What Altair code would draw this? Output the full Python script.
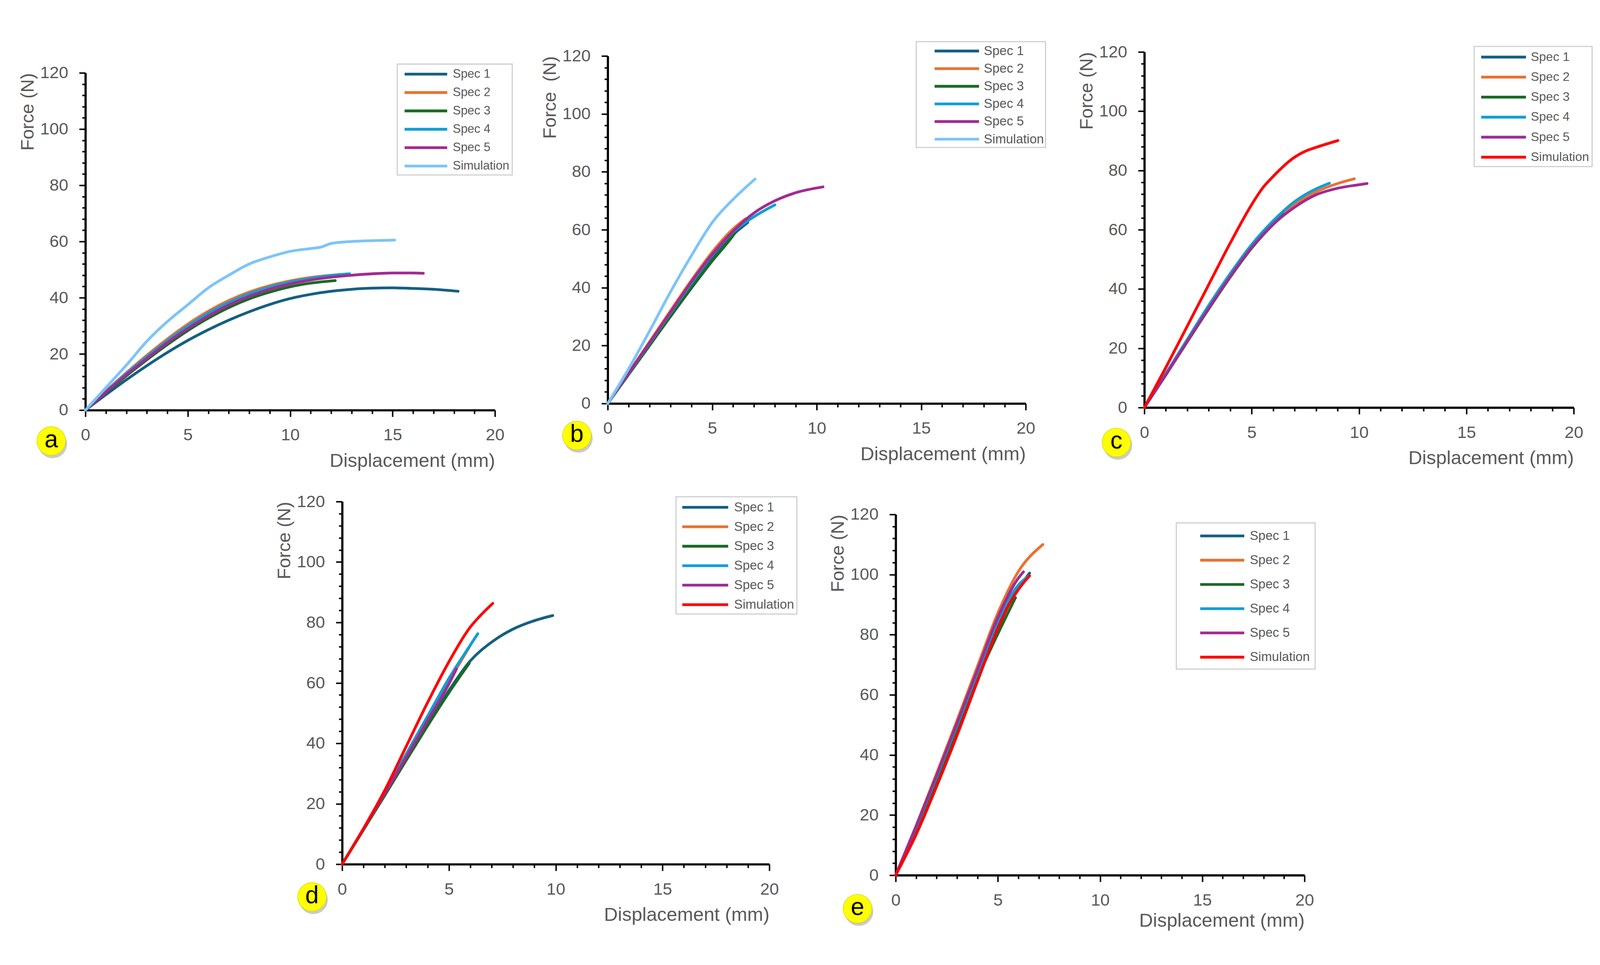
"""Force-displacement curves for five specimen sets (panels a-e)."""

import altair as alt
import pandas as pd

SERIES = ['Spec 1', 'Spec 2', 'Spec 3', 'Spec 4', 'Spec 5', 'Simulation']
SPEC_COLORS = ['#155F82', '#E97132', '#196B24', '#0F9ED5', '#A02B93']
SIM_BLUE = '#7CC4F8'
SIM_RED = '#FF0000'

X_TICKS = list(range(0, 21))
Y_TICKS = list(range(0, 121, 4))

GREY = '#595959'
FONT = 'Liberation Sans'

# panel a
A1_X = [0, 1, 2, 3, 4, 5, 6, 7, 8, 9, 10, 11, 12, 13, 14, 15, 16, 17, 18.2]
A1_F = [0, 5.5, 10.8, 15.8, 20.5, 24.8, 28.6, 32, 35, 37.6, 39.7, 41.2, 42.3, 43, 43.4, 43.5, 43.3, 43, 42.3]
A2_X = [0, 1, 2, 3, 4, 5, 6, 7, 8, 9, 10, 11, 12, 12.6]
A2_F = [0, 6.8, 13.3, 19.5, 25.3, 30.6, 35.2, 39, 42, 44.3, 46, 47.2, 48, 48.3]
A3_X = [0, 1, 2, 3, 4, 5, 6, 7, 8, 9, 10, 11, 12.2]
A3_F = [0, 6.2, 12.2, 17.9, 23.3, 28.3, 32.7, 36.5, 39.6, 42, 43.9, 45.2, 46.1]
A4_X = [0, 1, 2, 3, 4, 5, 6, 7, 8, 9, 10, 11, 12, 12.9]
A4_F = [0, 6.6, 13, 19, 24.7, 29.9, 34.5, 38.3, 41.4, 43.8, 45.6, 46.9, 47.9, 48.5]
A5_X = [0, 1, 2, 3, 4, 5, 6, 7, 8, 9, 10, 11, 12, 13, 14, 15, 16, 16.5]
A5_F = [0, 6.4, 12.6, 18.4, 24, 29, 33.5, 37.4, 40.5, 43, 44.9, 46.3, 47.3, 48, 48.5, 48.8, 48.8, 48.7]
A6_X = [0, 1, 2, 3, 4, 5, 6, 7, 8, 9, 10, 11, 11.5, 12, 13, 14, 15.1]
A6_F = [0, 8, 16, 24.5, 31.5, 37.5, 43.5, 48, 52, 54.5, 56.5, 57.5, 58, 59.3, 60, 60.3, 60.5]

# panel b
B1_X = [0, 1, 2, 3, 4, 5, 6, 6.7]
B1_F = [0, 10.3, 20.6, 30.8, 41, 50.5, 58.3, 62.5]
B2_X = [0, 1, 2, 3, 4, 5, 6, 6.6]
B2_F = [0, 10.6, 21.3, 32, 42.5, 52.3, 60.3, 63.8]
B3_X = [0, 1, 2, 3, 4, 5, 6, 6.1]
B3_F = [0, 10, 20, 30, 39.8, 49.2, 58, 59]
B4_X = [0, 1, 2, 3, 4, 5, 6, 7, 8]
B4_F = [0, 10.4, 20.8, 31.2, 41.5, 51.2, 59.2, 64.5, 68.6]
B5_X = [0, 1, 2, 3, 4, 5, 6, 7, 8, 9, 10.3]
B5_F = [0, 10.5, 21, 31.5, 42, 51.5, 59.5, 65.8, 70, 72.8, 74.8]
B6_X = [0, 1, 2, 3, 4, 5, 6, 7.05]
B6_F = [0, 12, 25, 38.5, 51, 62.5, 70.5, 77.5]

# panel c
C1_X = [0, 1, 2, 3, 4, 5, 6, 7, 7.4]
C1_F = [0, 11.2, 22.5, 33.8, 44.6, 54.4, 62.3, 68.3, 70.2]
C2_X = [0, 1, 2, 3, 4, 5, 6, 7, 8, 9, 9.78]
C2_F = [0, 11.2, 22.6, 34, 44.8, 54.6, 62.6, 68.6, 72.8, 75.6, 77.2]
C3_X = [0, 1, 2, 3, 4, 5, 6, 6.5]
C3_F = [0, 11, 22.2, 33.3, 44, 53.8, 61.8, 65.2]
C4_X = [0, 1, 2, 3, 4, 5, 6, 7, 8, 8.62]
C4_F = [0, 11.5, 23, 34.5, 45.2, 55, 63, 69.5, 73.8, 75.7]
C5_X = [0, 1, 2, 3, 4, 5, 6, 7, 8, 9, 10, 10.37]
C5_F = [0, 11, 22.3, 33.5, 44.2, 54, 61.8, 67.6, 71.8, 74, 75.2, 75.6]
C6_X = [0, 1, 2, 3, 4, 5, 5.5, 6, 7, 7.5, 8, 9.02]
C6_F = [0, 13.5, 27.5, 41.5, 55.5, 68.5, 74, 78, 84.5, 86.5, 87.8, 90.1]

# panel d
D1_X = [0, 1, 2, 3, 4, 5, 6, 7, 8, 9, 9.86]
D1_F = [0, 11.5, 23.2, 35, 46.5, 57.5, 67.3, 73.5, 77.8, 80.6, 82.3]
D2_X = [0, 1, 2, 3, 4, 5, 5.98]
D2_F = [0, 11.7, 23.7, 36, 48.3, 60.5, 72.2]
D3_X = [0, 1, 2, 3, 4, 5, 5.95]
D3_F = [0, 11.4, 22.8, 34.4, 45.8, 56.8, 66.5]
D4_X = [0, 1, 2, 3, 4, 5, 6, 6.35]
D4_F = [0, 11.8, 24, 36.5, 49, 61.5, 72.5, 76.3]
D5_X = [0, 1, 2, 3, 4, 5, 5.35]
D5_F = [0, 11.6, 23.4, 35.4, 47.6, 59.7, 64.6]
D6_X = [0, 1, 2, 3, 4, 5, 6, 6.5, 7.05]
D6_F = [0, 11.8, 24.5, 39, 53.5, 67, 78.5, 82.5, 86.3]

# panel e
E1_X = [0, 1, 2, 3, 4, 5, 6, 6.55]
E1_F = [0, 15.8, 32.3, 49.3, 66.7, 84, 95.5, 100.5]
E2_X = [0, 1, 2, 3, 4, 5, 6, 7.2]
E2_F = [0, 16.5, 33.8, 51.5, 69.5, 87.2, 101, 110]
E3_X = [0, 1, 2, 3, 4, 5, 5.86]
E3_F = [0, 15.5, 31.7, 48.5, 65.5, 80.3, 92.3]
E4_X = [0, 1, 2, 3, 4, 5, 6, 6.5]
E4_F = [0, 16, 32.6, 49.8, 67.3, 84.6, 96.5, 99.5]
E5_X = [0, 1, 2, 3, 4, 5, 6, 6.25]
E5_F = [0, 16.3, 33.2, 50.6, 68.3, 85.8, 98.8, 100.9]
E6_X = [0, 1, 2, 3, 4, 5, 5.5, 6, 6.55]
E6_F = [0, 13.5, 29.5, 46.5, 64.5, 82, 89.5, 95, 99.6]


def curves_frame(curves):
    rows = []
    for name, xs, fs in zip(SERIES, curves[0::2], curves[1::2]):
        for i, (x, f) in enumerate(zip(xs, fs)):
            rows.append({'series': name, 'disp': x, 'force': f, 'idx': i})
    return pd.DataFrame(rows)


def make_legend(lx, ly, size, pad, row_pad, line_len, gap, shift=0, tail=0):
    # custom path: a horizontal stroke starting at the left edge of the symbol box
    k = 2 * line_len / size - 1
    label_expr = 'datum.label'
    if tail:
        label_expr += " + '" + '\u00a0' * tail + "'"
    return alt.Legend(
        title=None, orient='none', legendX=lx, legendY=ly,
        symbolType=f'M-1,0H{k:.3f}', symbolSize=size * size,
        symbolStrokeWidth=7, symbolOffset=shift,
        labelFont=FONT, labelFontSize=size, labelColor=GREY,
        labelOffset=line_len + gap - size, labelLimit=500,
        labelExpr=label_expr,
        rowPadding=row_pad, padding=pad,
        strokeColor='#CDCDCD', fillColor='white',
    )


def make_panel(letter, curves, sim_color, cell, plot, legend, badge,
               y_title='Force (N)', sim_width=7.5, x_title_pad=22):
    cell_w, cell_h = cell
    left, top, pw, ph = plot
    bottom = top + ph
    df = curves_frame(curves)

    x_axis = alt.Axis(
        values=X_TICKS, labelExpr="datum.value % 5 === 0 ? datum.label : ''",
        offset=-(cell_h - bottom), grid=False,
        domainColor='black', domainWidth=6, tickColor='black', tickWidth=4,
        tickSize={'condition': {'test': 'datum.value % 5 === 0', 'value': 18}, 'value': 10},
        labelFont=FONT, labelFontSize=46, labelColor=GREY, labelPadding=28,
        labelFlush=False, labelOverlap=False,
        title='Displacement (mm)', titleFont=FONT, titleFontSize=52,
        titleFontWeight='normal', titleColor=GREY, titleAnchor='end',
        titlePadding=x_title_pad,
    )
    y_axis = alt.Axis(
        values=Y_TICKS, labelExpr="datum.value % 20 === 0 ? datum.label : ''",
        offset=-left, grid=False,
        domainColor='black', domainWidth=6, tickColor='black', tickWidth=4,
        tickSize={'condition': {'test': 'datum.value % 20 === 0', 'value': 17}, 'value': 9},
        labelFont=FONT, labelFontSize=46, labelColor=GREY, labelPadding=30,
        labelOverlap=False,
        title=y_title, titleFont=FONT, titleFontSize=50,
        titleFontWeight='normal', titleColor=GREY, titleAnchor='end',
        titlePadding=8,
    )

    widths = [7.5] * 5 + [sim_width]
    lines = alt.Chart(df).mark_line(
        strokeCap='round', strokeJoin='round', interpolate='monotone'
    ).encode(
        x=alt.X('disp:Q', scale=alt.Scale(domain=[0, 20], range=[left, left + pw], nice=False),
                axis=x_axis),
        y=alt.Y('force:Q', scale=alt.Scale(domain=[0, 120], range=[bottom, top], nice=False),
                axis=y_axis),
        color=alt.Color('series:N', scale=alt.Scale(domain=SERIES, range=SPEC_COLORS + [sim_color]),
                        legend=legend),
        strokeWidth=alt.StrokeWidth('series:N', scale=alt.Scale(domain=SERIES, range=widths),
                                    legend=legend if sim_width != 7.5 else None),
        order=alt.Order('idx:Q'),
    )

    bx, by = badge
    badge_df = pd.DataFrame({'label': [letter]})
    shadow = alt.Chart(badge_df).mark_circle(size=6084, color='#8C8C8C', opacity=0.45).encode(
        x=alt.value(bx + 4), y=alt.value(by + 8))
    disc = alt.Chart(badge_df).mark_circle(size=6084, color='#FFFF00', opacity=1,
                                           stroke='#D6D600', strokeWidth=1.5).encode(
        x=alt.value(bx), y=alt.value(by))
    text = alt.Chart(badge_df).mark_text(fontSize=66, font=FONT, color='black',
                                         align='center', baseline='middle', dy=-3).encode(
        x=alt.value(bx), y=alt.value(by), text='label:N')

    return alt.layer(lines, shadow, disc, text).properties(width=cell_w, height=cell_h)


CELL = (1449, 1227)

pa = make_panel(
    'a', [A1_X, A1_F, A2_X, A2_F, A3_X, A3_F, A4_X, A4_F, A5_X, A5_F, A6_X, A6_F], SIM_BLUE,
    CELL, (224, 112, 1115, 918),
    make_legend(1073, 88, 33, 7, 12, 116, 11, shift=9), (131, 1114))
pb = make_panel(
    'b', [B1_X, B1_F, B2_X, B2_F, B3_X, B3_F, B4_X, B4_F, B5_X, B5_F, B6_X, B6_F], SIM_BLUE,
    CELL, (197, 66, 1138, 946),
    make_legend(1037, 27, 35, 4, 8, 121, 9, shift=42, tail=16), (113, 1099),
    y_title='Force\u00a0 (N)')
pc = make_panel(
    'c', [C1_X, C1_F, C2_X, C2_F, C3_X, C3_F, C4_X, C4_F, C5_X, C5_F, C6_X, C6_F], SIM_RED,
    CELL, (209, 55, 1169, 968),
    make_legend(1107, 40, 34, 8, 16.5, 122, 9, shift=7), (133, 1118))
pd_ = make_panel(
    'd', [D1_X, D1_F, D2_X, D2_F, D3_X, D3_F, D4_X, D4_F, D5_X, D5_F, D6_X, D6_F], SIM_RED,
    CELL, (923, 52, 1163, 987),
    make_legend(1832, 39, 35, 7, 13, 125, 12, shift=6), (841, 1128))
pe = make_panel(
    'e', [E1_X, E1_F, E2_X, E2_F, E3_X, E3_F, E4_X, E4_F, E5_X, E5_F, E6_X, E6_F], SIM_RED,
    CELL, (981, 87, 1113, 982),
    make_legend(1745, 110, 35, 14, 26, 120, 11, shift=47, tail=15), (877, 1160),
    sim_width=12, x_title_pad=8)

chart = alt.concat(
    pa, pb, pc, pd_, pe, columns=3, spacing=0, bounds='flush'
).resolve_scale(
    color='independent', strokeWidth='independent', x='independent', y='independent'
).resolve_legend(
    color='independent', strokeWidth='independent'
).configure_view(
    stroke=None
).configure_legend(
    strokeWidth=3
).properties(
    autosize=alt.AutoSizeParams(type='none'),
    padding={'left': 0, 'top': 0, 'right': 4339, 'bottom': 2454},
    background='white'
)

chart.save("out.html", embed_options={"renderer": "svg", "actions": False})
